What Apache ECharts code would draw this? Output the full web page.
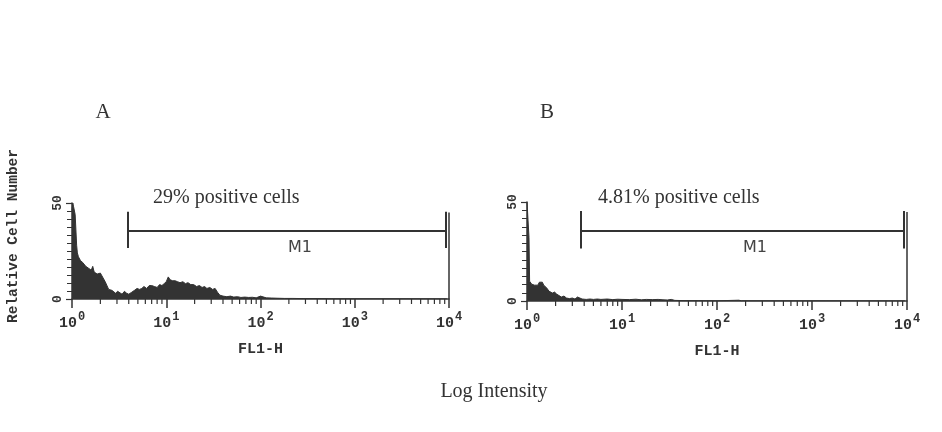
<!DOCTYPE html>
<html><head><meta charset="utf-8">
<script src="https://cdn.jsdelivr.net/npm/echarts@6/dist/echarts.min.js"></script>
<style>html,body{margin:0;padding:0;background:#fff}#c{width:942px;height:432px}</style>
</head><body><div id="c"></div>
<script>
// ---- Data ----
const xTickExponents = ['0', '1', '2', '3', '4'];
const yTickLabels = ['0', '50'];
const minorTickValues = [2,3,4,5,6,7,8,9,20,30,40,50,60,70,80,90,200,300,400,500,600,700,800,900,2000,3000,4000,5000,6000,7000,8000,9000];

// Panel A: FL1-H intensity vs. relative cell number
const aIntensity = [1.00,1.02,1.04,1.06,1.08,1.10,1.12,1.14,1.17,1.20,1.23,1.26,1.30,1.35,1.40,1.45,1.50,1.55,1.60,1.66,1.72,1.78,1.85,1.92,2.00,2.08,2.16,2.25,2.35,2.45,2.55,2.65,2.75,2.90,3.05,3.20,3.40,3.60,3.80,4.00,4.30,4.60,4.90,5.20,5.50,5.80,6.20,6.60,7.00,7.50,8.00,8.50,9.00,9.50,10.0,10.5,11.0,11.7,12.4,13.2,14.0,15.0,16.0,17.0,18.2,19.5,21.0,22.5,24.0,25.5,27.0,29.0,31.0,33.0,35.0,37.0,40.0,44.0,48.0,52.0,57.0,62.0,68.0,75.0,82.0,90.0,100,105,115,130,150,180,220,300,400,600,1000,3000,9500];
const aCount =     [46,50,48,47,44,36,28,24,22,23,20,21,19,19,17,18,16,17,15,17,14,15,13,14,13.5,12,11,9,8,5,5.5,4.5,4,3,4,3,2.5,4,3,2.5,3.5,4.5,5.5,5,5.5,6.5,5.5,7,7,6.5,6,7.5,7,8,9,11.5,10,9.5,9.5,9,8.5,9,8,8.5,7.5,7.5,6.5,7,6,6.5,5.5,6,5,5.5,3.5,2,1.5,1.2,1.5,1,1.2,0.8,1,0.8,0.9,0.6,1.5,0.8,0.6,0.5,0.4,0.3,0.3,0.2,0.2,0.1,0.1,0.1,0.1];

// Panel B
const bIntensity = [1.00,1.03,1.05,1.065,1.08,1.12,1.16,1.20,1.25,1.30,1.35,1.40,1.45,1.50,1.55,1.62,1.70,1.78,1.85,1.95,2.05,2.15,2.30,2.45,2.60,2.80,3.00,3.20,3.40,3.60,3.80,4.20,4.60,5.00,5.50,6.00,7.00,8.00,9.00,10.0,12.0,14.0,16.0,18.0,21.0,24.0,27.0,30.0,33.0,36.0,45.0,60.0,100,170,180,400,1000,9500];
const bCount =     [50,50,32,10,9,8.5,9,8,7.5,8,9.5,10,9.5,8,7,6.5,5,5.5,4,4.5,3.5,3,2,2.5,1.5,1.2,1.5,1,2,1.5,1,0.8,1,0.8,1,0.8,1,0.7,0.9,0.8,0.7,0.9,0.6,0.8,0.7,0.8,0.6,0.5,0.8,0.3,0.2,0.2,0.1,0.4,0.1,0.1,0.1,0.1];

// Gate M1: [start, end, level, barLow, barHigh]
const gateA = [3.86, 9300, 35.5, 26.5, 45.5];
const gateB = [3.72, 9300, 35.5, 26.5, 45.5];
const frameTop = 45;
const labelsTop = ['A', 'B'];
const percentTexts = ['29% positive cells', '4.81% positive cells'];

// ---- Chart ----
const ink = '#333';
const mono = "'Liberation Mono', 'DejaVu Sans Mono', monospace";
const serif = "'Liberation Serif', 'DejaVu Serif', serif";

function pairs(xs, ys) { return xs.map((x, i) => [x, ys[i]]); }

function xAxis(gi) {
  return {
    type: 'log', logBase: 10, min: 1, max: 10000, gridIndex: gi,
    axisLine: { show: true, lineStyle: { color: ink, width: 1.5 } },
    axisTick: { show: true, length: 9, lineStyle: { color: ink, width: 1.5 } },
    splitLine: { show: false },
    axisLabel: {
      margin: 12, color: ink,
      formatter: (v, i) => '{b|10}{s|' + xTickExponents[i] + '}',
      rich: {
        b: { fontFamily: mono, fontWeight: 'bold', fontSize: 15, color: ink },
        s: { fontFamily: mono, fontWeight: 'bold', fontSize: 12, color: ink, padding: [0, 0, 13, 1] }
      }
    },
    name: 'FL1-H', nameLocation: 'middle', nameGap: 43,
    nameTextStyle: { fontFamily: mono, fontWeight: 'bold', fontSize: 15, color: ink }
  };
}
function yAxis(gi) {
  return {
    type: 'value', min: 0, max: 50, interval: 50, gridIndex: gi,
    axisLine: { show: true, lineStyle: { color: ink, width: 1.5 } },
    axisTick: { show: true, length: 6, lineStyle: { color: ink, width: 1.2 } },
    minorTick: { show: true, splitNumber: 12, length: 5, lineStyle: { color: ink, width: 1 } },
    splitLine: { show: false },
    axisLabel: {
      rotate: 90, margin: 8, color: ink, fontFamily: mono, fontWeight: 'bold', fontSize: 13,
      formatter: (v, i) => yTickLabels[i]
    }
  };
}
function histSeries(gi, xs, ys, gate) {
  const [g0, g1, lv, lo, hi] = gate;
  return {
    type: 'line', xAxisIndex: gi, yAxisIndex: gi, data: pairs(xs, ys),
    symbol: 'none', silent: true,
    lineStyle: { color: ink, width: 1 },
    areaStyle: { color: ink, opacity: 1 },
    markLine: {
      silent: true, symbol: 'none', label: { show: false },
      lineStyle: { color: ink, width: 2, type: 'solid' },
      data: [
        [{ coord: [g0, lv] }, { coord: [g1, lv] }],
        [{ coord: [g0, lo] }, { coord: [g0, hi] }],
        [{ coord: [g1, lo] }, { coord: [g1, hi] }],
        [{ coord: [10000, 0], lineStyle: { width: 1.5 } }, { coord: [10000, frameTop], lineStyle: { width: 1.5 } }]
      ]
    }
  };
}
function minorTicks(gi) {
  return {
    type: 'custom', xAxisIndex: gi, yAxisIndex: gi, clip: false, silent: true,
    data: minorTickValues.map(v => [v, 0]),
    renderItem: (params, api) => {
      const p = api.coord([api.value(0), 0]);
      return { type: 'line', shape: { x1: p[0], y1: p[1], x2: p[0], y2: p[1] + 5 },
               style: { stroke: ink, lineWidth: 1.2 } };
    }
  };
}

const chart = echarts.init(document.getElementById('c'), null, { renderer: 'canvas' });
chart.setOption({
  animation: false,
  backgroundColor: '#fff',
  grid: [
    { left: 72, top: 203, width: 377, height: 96 },
    { left: 527, top: 202, width: 380, height: 99 }
  ],
  xAxis: [xAxis(0), xAxis(1)],
  yAxis: [yAxis(0), yAxis(1)],
  series: [
    histSeries(0, aIntensity, aCount, gateA),
    histSeries(1, bIntensity, bCount, gateB),
    minorTicks(0), minorTicks(1)
  ],
  graphic: [
    { type: 'text', x: 103, y: 112, style: { text: labelsTop[0], font: '21px ' + serif, fill: ink, align: 'center', verticalAlign: 'middle' } },
    { type: 'text', x: 547, y: 112, style: { text: labelsTop[1], font: '21px ' + serif, fill: ink, align: 'center', verticalAlign: 'middle' } },
    { type: 'text', x: 153, y: 198, style: { text: percentTexts[0], font: '20px ' + serif, fill: ink, align: 'left', verticalAlign: 'middle' } },
    { type: 'text', x: 598, y: 198, style: { text: percentTexts[1], font: '20px ' + serif, fill: ink, align: 'left', verticalAlign: 'middle' } },
    { type: 'text', x: 300, y: 248, style: { text: 'M1', font: "16px 'DejaVu Sans', sans-serif", fill: '#444', align: 'center', verticalAlign: 'middle' } },
    { type: 'text', x: 755, y: 248, style: { text: 'M1', font: "16px 'DejaVu Sans', sans-serif", fill: '#444', align: 'center', verticalAlign: 'middle' } },
    { type: 'text', x: 494, y: 392, style: { text: 'Log Intensity', font: '20px ' + serif, fill: ink, align: 'center', verticalAlign: 'middle' } },
    { type: 'text', x: 13, y: 236, rotation: Math.PI / 2, style: { text: 'Relative Cell Number', font: 'bold 14.5px ' + mono, fill: ink, align: 'center', verticalAlign: 'middle' } }
  ]
});
</script>
</body></html>
